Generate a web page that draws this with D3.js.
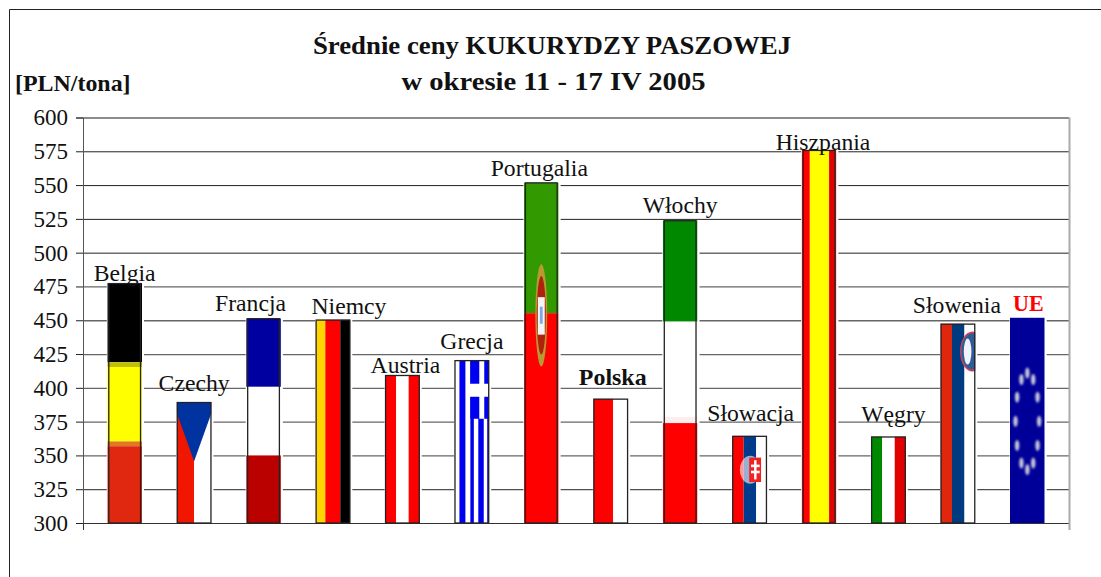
<!DOCTYPE html>
<html>
<head>
<meta charset="utf-8">
<script src="https://cdn.jsdelivr.net/npm/d3@7"></script>
<style>
  body { margin: 0; background: #fff; }
  text { font-family: "Liberation Serif", serif; fill: #111; }
</style>
</head>
<body>
<svg id="chart" width="1101" height="577"></svg>
<script>
// Średnie ceny kukurydzy paszowej
const countries = ["Belgia", "Czechy", "Francja", "Niemcy", "Austria", "Grecja", "Portugalia", "Polska", "Włochy", "Słowacja", "Hiszpania", "Węgry", "Słowenia", "UE"];
const prices = [477.5, 389.5, 451.5, 450.5, 409.5, 420.5, 552, 392, 524, 364.5, 576, 364, 447.5, 452];
const yTicks = [300, 325, 350, 375, 400, 425, 450, 475, 500, 525, 550, 575, 600];
const titleLines = ["Średnie ceny KUKURYDZY PASZOWEJ", "w okresie 11 - 17 IV 2005"];
const unitLabel = "[PLN/tona]";

const margin = { top: 117.5, right: 32, bottom: 54, left: 83 },
    width = 1101 - margin.left - margin.right,
    height = 577 - margin.top - margin.bottom;

const svg = d3.select("#chart");

// outer frame, only top and left are visible in the picture
svg.append("path")
    .attr("d", "M9.5,577V9.5H1101")
    .attr("fill", "none")
    .attr("stroke", "#222")
    .attr("stroke-width", 1);

const defs = svg.append("defs");
defs.append("filter").attr("id", "soft").append("feGaussianBlur").attr("stdDeviation", 0.7);
defs.append("filter").attr("id", "softer").append("feGaussianBlur").attr("stdDeviation", 1.2);
defs.append("filter").attr("id", "smearX").append("feGaussianBlur").attr("stdDeviation", "0.6 0");

const x = d3.scaleBand().domain(countries).range([0, width]).paddingInner(0.5).paddingOuter(0.35);
const y = d3.scaleLinear().domain([300, 600]).range([height, 0]);

const g = svg.append("g").attr("transform", `translate(${margin.left},${margin.top})`);

// gridlines, the picture has some lighter because of the scan
const lightRows = [350, 375, 400, 425, 450, 475, 600];
const grid = g.append("g")
    .call(d3.axisLeft(y).tickValues(yTicks).tickSize(-width).tickFormat(""));
grid.select(".domain").remove();
grid.selectAll("line")
    .attr("stroke", d => lightRows.includes(d) ? "#666" : "#222")
    .attr("stroke-width", d => lightRows.includes(d) ? 1.3 : 1);

// y axis
const yAxis = g.append("g")
    .call(d3.axisLeft(y).tickValues(yTicks).tickSize(7).tickPadding(8).tickFormat(d3.format("d")));
yAxis.select(".domain").attr("stroke", "#555");
yAxis.selectAll("line").attr("stroke", "#222");
yAxis.selectAll("text")
    .attr("font-family", "Liberation Serif")
    .attr("font-size", 23)
    .attr("fill", "#111")
    .attr("dy", "0.32em");

// x axis, no category ticks, only the ends
const xAxis = g.append("g")
    .attr("transform", `translate(0,${height})`)
    .call(d3.axisBottom(x).tickValues([]).tickSizeOuter(7));
xAxis.select(".domain").attr("stroke", "#333");

// right border of the plot
g.append("line")
    .attr("x1", width + 0.5).attr("x2", width + 0.5)
    .attr("y1", 0).attr("y2", height + 7)
    .attr("stroke", "#aaa")
    .attr("stroke-width", 2);

// helpers for the flag fills, all in fractions of the bar
function stripesV(f, w, h, list) {
    list.forEach(s => f.append("rect")
        .attr("x", s[0] * w).attr("y", 0)
        .attr("width", (s[1] - s[0]) * w).attr("height", h)
        .attr("fill", s[2]));
}
function stripesH(f, w, h, list) {
    list.forEach(s => f.append("rect")
        .attr("x", 0).attr("y", s[0] * h)
        .attr("width", w).attr("height", (s[1] - s[0]) * h)
        .attr("fill", s[2]));
}

const flags = {
    "Belgia": (f, w, h) => stripesH(f, w, h, [[0, 0.33, "#000"], [0.33, 0.35, "#c0c000"], [0.35, 0.66, "#ffff00"], [0.66, 0.68, "#e07a20"], [0.68, 1, "#e02810"]]),
    "Czechy": (f, w, h) => {
        stripesV(f, w, h, [[0, 0.5, "#f01800"], [0.5, 1, "#fff"]]);
        f.append("polygon")
            .attr("points", [[0, 0], [w, 0], [w, h * 0.09], [w * 0.5, h * 0.49], [0, h * 0.09]].join(" "))
            .attr("fill", "#0033a0");
    },
    "Francja": (f, w, h) => stripesH(f, w, h, [[0, 0.335, "#0000a0"], [0.335, 0.67, "#fff"], [0.67, 1, "#bb0000"]]),
    "Niemcy": (f, w, h) => stripesV(f, w, h, [[0, 0.28, "#ffd500"], [0.28, 0.71, "#ff0000"], [0.71, 1, "#000"]]),
    "Austria": (f, w, h) => stripesV(f, w, h, [[0, 0.32, "#ff0000"], [0.32, 0.68, "#fff"], [0.68, 1, "#ff0000"]]),
    "Grecja": (f, w, h) => {
        const u = 1 / 35;
        stripesV(f, w, h, [[0, 1, "#fff"], [5 * u, 11 * u, "#0000f0"], [16 * u, 19.5 * u, "#0000f0"], [24 * u, 29.5 * u, "#0000f0"], [33 * u, 1, "#0000f0"]]);
        // canton
        f.append("rect").attr("x", 16 * u * w).attr("y", 0).attr("width", w - 16 * u * w).attr("height", h * 0.36).attr("fill", "#0000f0");
        f.append("rect").attr("x", 25 * u * w).attr("y", 0).attr("width", 5 * u * w).attr("height", h * 0.36).attr("fill", "#fff");
        f.append("rect").attr("x", 13 * u * w).attr("y", h * 0.145).attr("width", w - 13 * u * w).attr("height", h * 0.08).attr("fill", "#fff");
    },
    "Portugalia": (f, w, h) => {
        stripesH(f, w, h, [[0, 0.384, "#339900"], [0.384, 1, "#ff0000"]]);
        const e = f.append("g").attr("filter", "url(#soft)");
        e.append("ellipse").attr("cx", w / 2).attr("cy", h * 0.39).attr("rx", w * 0.17).attr("ry", h * 0.15).attr("fill", "#b89a30");
        e.append("ellipse").attr("cx", w / 2).attr("cy", h * 0.39).attr("rx", w * 0.13).attr("ry", h * 0.115).attr("fill", "#b02010");
        e.append("rect").attr("x", w * 0.4).attr("y", h * 0.337).attr("width", w * 0.2).attr("height", h * 0.11).attr("fill", "#f4f4f4");
        e.append("rect").attr("x", w * 0.46).attr("y", h * 0.365).attr("width", w * 0.08).attr("height", h * 0.05).attr("fill", "#80a8e8");
    },
    "Polska": (f, w, h) => stripesV(f, w, h, [[0, 0.57, "#ff0000"], [0.57, 1, "#fff"]]),
    "Włochy": (f, w, h) => stripesH(f, w, h, [[0, 0.335, "#008800"], [0.335, 0.65, "#fff"], [0.65, 0.67, "#fdeeee"], [0.67, 1, "#ff0000"]]),
    "Słowacja": (f, w, h) => {
        stripesV(f, w, h, [[0, 0.33, "#ff0000"], [0.33, 0.69, "#003a8c"], [0.69, 1, "#fff"]]);
        const e = f.append("g").attr("filter", "url(#soft)");
        e.append("ellipse").attr("cx", w * 0.52).attr("cy", h * 0.39).attr("rx", w * 0.3).attr("ry", h * 0.16).attr("fill", "#fff").attr("opacity", 0.6);
        e.append("rect").attr("x", w * 0.49).attr("y", h * 0.25).attr("width", w * 0.34).attr("height", h * 0.28).attr("fill", "#f02020");
        e.append("rect").attr("x", w * 0.63).attr("y", h * 0.28).attr("width", w * 0.07).attr("height", h * 0.22).attr("fill", "#fff");
        e.append("rect").attr("x", w * 0.54).attr("y", h * 0.33).attr("width", w * 0.25).attr("height", h * 0.03).attr("fill", "#fff");
        e.append("rect").attr("x", w * 0.54).attr("y", h * 0.40).attr("width", w * 0.25).attr("height", h * 0.03).attr("fill", "#fff");
    },
    "Hiszpania": (f, w, h) => stripesV(f, w, h, [[0, 0.235, "#ff0000"], [0.235, 0.79, "#ffff00"], [0.79, 0.93, "#e00000"], [0.93, 0.95, "#400"], [0.95, 1, "#ff0000"]]),
    "Węgry": (f, w, h) => stripesV(f, w, h, [[0, 0.32, "#008800"], [0.32, 0.68, "#fff"], [0.68, 1, "#e00000"]]),
    "Słowenia": (f, w, h) => {
        stripesV(f, w, h, [[0, 0.33, "#e02810"], [0.33, 0.69, "#003a80"], [0.69, 1, "#fff"]]);
        const e = f.append("g").attr("filter", "url(#soft)");
        e.append("ellipse").attr("cx", w * 0.92).attr("cy", h * 0.14).attr("rx", w * 0.36).attr("ry", h * 0.1).attr("fill", "#c84058");
        e.append("ellipse").attr("cx", w * 0.92).attr("cy", h * 0.14).attr("rx", w * 0.32).attr("ry", h * 0.09).attr("fill", "#2f5c98");
        e.append("ellipse").attr("cx", w * 0.78).attr("cy", h * 0.14).attr("rx", w * 0.11).attr("ry", h * 0.065).attr("fill", "#f0f4fa");
    },
    "UE": (f, w, h) => {
        f.append("rect").attr("width", w).attr("height", h).attr("fill", "#000099");
        const e = f.append("g").attr("filter", "url(#softer)");
        d3.range(12).forEach(i => {
            const a = i * Math.PI / 6;
            e.append("ellipse")
                .attr("cx", w / 2 + Math.sin(a) * w * 0.34)
                .attr("cy", h * 0.505 - Math.cos(a) * h * 0.235)
                .attr("rx", 2.2).attr("ry", 5.5)
                .attr("fill", "#c8c8d8");
        });
    }
};

// bars without a drawn outline, bars whose flag sticks out past the outline,
// and flags with a smeared vertical edge
const noOutline = ["UE"];
const insetOutline = ["Belgia", "Francja", "Portugalia", "Włochy", "Hiszpania"];
const smeared = ["Czechy", "Austria", "Grecja", "Polska", "Węgry", "Słowacja", "Słowenia"];

const bars = g.selectAll(".bar")
    .data(countries.map((name, i) => ({ name: name, price: prices[i] })))
    .enter().append("g")
    .attr("class", "bar")
    .attr("transform", d => `translate(${x(d.name)},${y(d.price)})`);

// gridlines stop a little short of the bar, white halo behind it
bars.append("rect")
    .attr("x", -0.5)
    .attr("width", x.bandwidth() + 2.5)
    .attr("height", d => y(300) - y(d.price))
    .attr("fill", "#fff");

bars.each(function (d, i) {
    const w = x.bandwidth(), h = y(300) - y(d.price);
    const b = d3.select(this);
    defs.append("clipPath").attr("id", `clip${i}`)
        .append("rect").attr("width", w).attr("height", h);
    const f = b.append("g").attr("clip-path", `url(#clip${i})`)
        .append("g").attr("filter", smeared.includes(d.name) ? "url(#smearX)" : null);
    flags[d.name](f, w, h);
    if (!noOutline.includes(d.name)) {
        const inset = insetOutline.includes(d.name) ? 1.5 : 0.5;
        b.append("rect")
            .attr("x", inset).attr("y", 0.5)
            .attr("width", w - 2 * inset).attr("height", h - 0.5)
            .attr("fill", "none")
            .attr("stroke", "#222")
            .attr("stroke-width", 1.3);
    }
});

// country labels, nudged by hand like in the picture
const labelNudge = {
    "Belgia": [0, -2], "Czechy": [0, -11], "Francja": [-13, -7], "Niemcy": [16, -6], "Austria": [3, -2],
    "Grecja": [0, -11], "Portugalia": [-2, -6], "Polska": [2, -14], "Włochy": [0, -7], "Słowacja": [1, -15],
    "Hiszpania": [4, 0], "Węgry": [5, -14], "Słowenia": [-1, -11], "UE": [1, -7]
};

bars.append("text")
    .attr("text-anchor", "middle")
    .attr("font-weight", d => d.name === "Polska" || d.name === "UE" ? "bold" : "normal")
    .style("font-size", "23px")
    .style("fill", d => d.name === "UE" ? "#ff0000" : "#111")
    .attr("transform", d => {
        const stretch = d.name === "Polska" ? 1.04 : d.name === "UE" ? 0.96 : 1.03;
        return `translate(${x.bandwidth() / 2 + labelNudge[d.name][0]},${labelNudge[d.name][1]}) scale(${stretch},1)`;
    })
    .text(d => d.name);

// title, second line is set wider in the picture
svg.selectAll(".title")
    .data(titleLines)
    .enter().append("text")
    .attr("class", "title")
    .attr("text-anchor", "middle")
    .attr("font-weight", "bold")
    .attr("font-size", 26)
    .attr("transform", (d, i) => `translate(${i === 0 ? 552 : 553.5},${54 + i * 36}) scale(${i === 0 ? 1.03 : 1.1},1)`)
    .text(d => d);

svg.append("text")
    .attr("transform", "translate(15,91) scale(1.04,1)")
    .attr("font-weight", "bold")
    .attr("font-size", 23)
    .text(unitLabel);
</script>
</body>
</html>
